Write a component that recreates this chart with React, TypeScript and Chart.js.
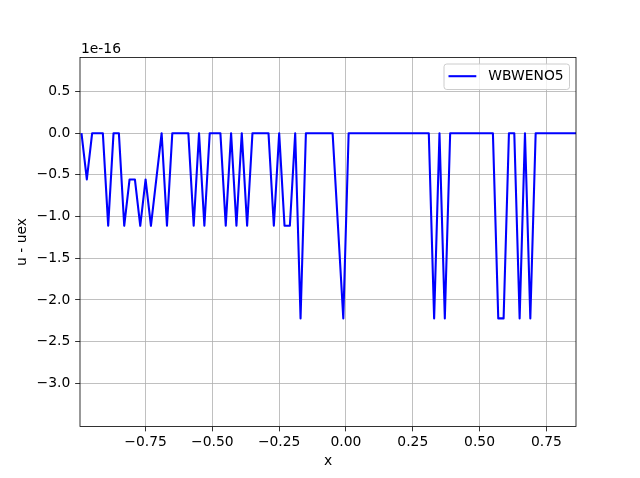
import React, { useEffect, useRef } from "react";
import { Chart, registerables } from "chart.js";

Chart.register(...registerables);

// Cell-centre positions
const X_VALUES = [
  -0.99, -0.97, -0.95, -0.93, -0.91, -0.89, -0.87, -0.85, -0.83, -0.81,
  -0.79, -0.77, -0.75, -0.73, -0.71, -0.69, -0.67, -0.65, -0.63, -0.61,
  -0.59, -0.57, -0.55, -0.53, -0.51, -0.49, -0.47, -0.45, -0.43, -0.41,
  -0.39, -0.37, -0.35, -0.33, -0.31, -0.29, -0.27, -0.25, -0.23, -0.21,
  -0.19, -0.17, -0.15, -0.13, -0.11, -0.09, -0.07, -0.05, -0.03, -0.01,
  0.01, 0.03, 0.05, 0.07, 0.09, 0.11, 0.13, 0.15, 0.17, 0.19,
  0.21, 0.23, 0.25, 0.27, 0.29, 0.31, 0.33, 0.35, 0.37, 0.39,
  0.41, 0.43, 0.45, 0.47, 0.49, 0.51, 0.53, 0.55, 0.57, 0.59,
  0.61, 0.63, 0.65, 0.67, 0.69, 0.71, 0.73, 0.75, 0.77, 0.79,
  0.81, 0.83, 0.85, 0.87,
];

// u - uex, in units of 1e-16
const ERROR_VALUES = [
  0, -0.5551, 0, 0, 0, -1.1102, 0, 0, -1.1102, -0.5551,
  -0.5551, -1.1102, -0.5551, -1.1102, -0.5551, 0, -1.1102, 0, 0, 0,
  0, -1.1102, 0, -1.1102, 0, 0, 0, -1.1102, 0, -1.1102,
  0, -1.1102, 0, 0, 0, 0, -1.1102, 0, -1.1102, -1.1102,
  0, -2.2204, 0, 0, 0, 0, 0, 0, -1.1102, -2.2204,
  0, 0, 0, 0, 0, 0, 0, 0, 0, 0,
  0, 0, 0, 0, 0, 0, -2.2204, 0, -2.2204, 0,
  0, 0, 0, 0, 0, 0, 0, 0, -2.2204, -2.2204,
  0, 0, -2.2204, 0, -2.2204, 0, 0, 0, 0, 0,
  0, 0, 0, 0,
];

const X_TICKS = [-0.75, -0.5, -0.25, 0, 0.25, 0.5, 0.75];
const Y_TICKS = [-3.0, -2.5, -2.0, -1.5, -1.0, -0.5, 0.0, 0.5];
const SERIES_LABEL = "WBWENO5";
const OFFSET_LABEL = "1e-16";
const X_LABEL = "x";
const Y_LABEL = "u - uex";

const FONT = "DejaVu Sans";
const FS = 13.89;

const fmt = (v: number, d: number) => {
  const s = Math.abs(v).toFixed(d);
  return v < 0 && Number(s) !== 0 ? "\u2212" + s : s;
};

const decorPlugin = {
  id: "decor",
  afterDraw(chart: any) {
    const { ctx, chartArea } = chart;
    const { left, right, top, bottom } = chartArea;
    ctx.save();
    // spines
    ctx.strokeStyle = "#000";
    ctx.lineWidth = 0.8;
    ctx.strokeRect(left, top, right - left, bottom - top);
    // offset text
    ctx.fillStyle = "#000";
    ctx.font = `${FS}px "${FONT}"`;
    ctx.textAlign = "left";
    ctx.textBaseline = "alphabetic";
    ctx.fillText(OFFSET_LABEL, left + 1, top - 4.3);
    // legend
    const lx = 444, ly = 64, lw = 125.5, lh = 25.5, r = 2.8;
    ctx.beginPath();
    ctx.moveTo(lx + r, ly);
    ctx.lineTo(lx + lw - r, ly);
    ctx.arcTo(lx + lw, ly, lx + lw, ly + r, r);
    ctx.lineTo(lx + lw, ly + lh - r);
    ctx.arcTo(lx + lw, ly + lh, lx + lw - r, ly + lh, r);
    ctx.lineTo(lx + r, ly + lh);
    ctx.arcTo(lx, ly + lh, lx, ly + lh - r, r);
    ctx.lineTo(lx, ly + r);
    ctx.arcTo(lx, ly, lx + r, ly, r);
    ctx.closePath();
    ctx.fillStyle = "rgba(255,255,255,0.8)";
    ctx.fill();
    ctx.strokeStyle = "#cccccc";
    ctx.lineWidth = 1;
    ctx.stroke();
    ctx.beginPath();
    ctx.moveTo(448.5, 76.2);
    ctx.lineTo(476.3, 76.2);
    ctx.strokeStyle = "#0000ff";
    ctx.lineWidth = 2.08;
    ctx.stroke();
    ctx.fillStyle = "#000";
    ctx.textBaseline = "middle";
    ctx.fillText(SERIES_LABEL, 488.3, 76.5);
    ctx.restore();
  },
};

export default function App() {
  const canvasRef = useRef<HTMLCanvasElement | null>(null);

  useEffect(() => {
    const canvas = canvasRef.current;
    if (!canvas) return;
    const points = X_VALUES.map((x, i) => ({ x, y: ERROR_VALUES[i] }));
    const tickFont = { family: FONT, size: FS };
    const chart = new Chart(canvas, {
      type: "line",
      data: {
        datasets: [
          {
            label: SERIES_LABEL,
            data: points,
            borderColor: "#0000ff",
            backgroundColor: "#0000ff",
            borderWidth: 2.08,
            pointRadius: 0,
            tension: 0,
            borderJoinStyle: "round",
            fill: false,
          },
        ],
      },
      options: {
        animation: false,
        responsive: false,
        devicePixelRatio: 1,
        layout: { padding: { left: 0, right: 64, top: 57.5, bottom: 0 } },
        plugins: {
          legend: { display: false },
          title: { display: false },
          tooltip: { enabled: false },
        },
        scales: {
          x: {
            type: "linear",
            min: -0.9955,
            max: 0.861,
            afterBuildTicks: (s: any) => {
              s.ticks = X_TICKS.map((v) => ({ value: v }));
            },
            afterFit: (s: any) => {
              s.height = 478 - 426.5;
            },
            ticks: {
              color: "#000",
              font: tickFont,
              padding: 3,
              maxRotation: 0,
              autoSkip: false,
              callback: (v: any) => fmt(Number(v), 2),
            },
            grid: {
              color: "#b0b0b0",
              lineWidth: 0.8,
              tickColor: "#000",
              tickWidth: 0.8,
              tickLength: 4.86,
            },
            border: { display: false },
            title: {
              display: true,
              text: X_LABEL,
              color: "#000",
              font: { family: FONT, size: FS },
              padding: { top: 0, bottom: 8.5 },
            },
          },
          y: {
            type: "linear",
            min: -3.5167,
            max: 0.9073,
            afterBuildTicks: (s: any) => {
              s.ticks = Y_TICKS.map((v) => ({ value: v }));
            },
            afterFit: (s: any) => {
              s.width = 80;
            },
            ticks: {
              color: "#000",
              font: tickFont,
              padding: 4.86,
              autoSkip: false,
              callback: (v: any) => fmt(Number(v), 1),
            },
            grid: {
              color: "#b0b0b0",
              lineWidth: 0.8,
              tickColor: "#000",
              tickWidth: 0.8,
              tickLength: 4.86,
            },
            border: { display: false },
            title: {
              display: true,
              text: Y_LABEL,
              color: "#000",
              font: { family: FONT, size: FS },
              padding: { top: 14.5, bottom: 0 },
            },
          },
        },
      },
      plugins: [decorPlugin],
    } as any);
    return () => chart.destroy();
  }, []);

  return (
    <div style={{ position: "absolute", left: 0, top: 0, width: 640, height: 478, background: "#fff" }}>
      <canvas ref={canvasRef} width={640} height={478} style={{ display: "block", width: 640, height: 478 }} />
    </div>
  );
}
